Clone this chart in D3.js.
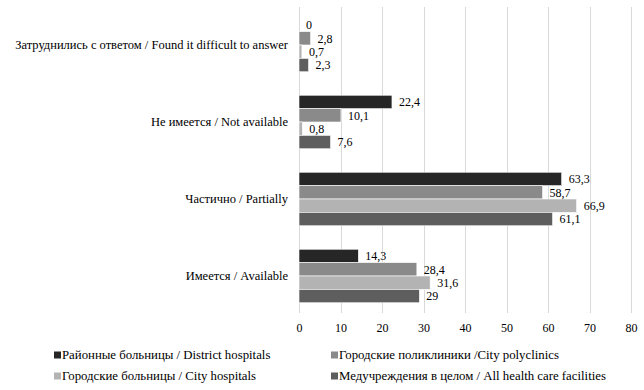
<!DOCTYPE html>
<html>
<head>
<meta charset="utf-8">
<script src="https://cdn.jsdelivr.net/npm/d3@7"></script>
<style>
  body { margin: 0; background: #fff; }
  svg text { font-family: "Liberation Serif", "Times New Roman", serif; fill: #000; }
</style>
</head>
<body>
<div id="chart"></div>
<script>
// categories, bottom to top as in the picture
const categories = [
  "Имеется / Available",
  "Частично / Partially",
  "Не имеется / Not available",
  "Затруднились с ответом / Found it difficult to answer"
];

const seriesNames = [
  "Районные больницы / District hospitals",
  "Городские поликлиники /City polyclinics",
  "Городские больницы / City hospitals",
  "Медучреждения в целом / All health care facilities"
];

// values per series, same order as categories
const district = [14.3, 63.3, 22.4, 0];
const polyclinics = [28.4, 58.7, 10.1, 2.8];
const cityHosp = [31.6, 66.9, 0.8, 0.7];
const allFacilities = [29, 61.1, 7.6, 2.3];

const xTicks = [0, 10, 20, 30, 40, 50, 60, 70, 80];

const colors = ["#262626", "#8a8a8a", "#b3b3b3", "#5e5e5e"];

const w = 644, h = 390;
const seriesVals = [district, polyclinics, cityHosp, allFacilities];

const svg = d3.select("#chart").append("svg")
  .attr("width", w).attr("height", h);

const x = d3.scaleLinear().domain([0, 80]).range([299, 631]);

// top category first on screen
const y = d3.scaleBand()
  .domain(categories.slice().reverse())
  .range([6.5, 314.5])
  .paddingInner(0.305)
  .paddingOuter(0.1525);

const ySub = d3.scaleBand()
  .domain(d3.range(seriesNames.length))
  .range([0, y.bandwidth()]);

// grid
svg.append("g")
  .selectAll("line")
  .data(xTicks)
  .join("line")
  .attr("x1", d => Math.round(x(d)) + 0.5)
  .attr("x2", d => Math.round(x(d)) + 0.5)
  .attr("y1", 7)
  .attr("y2", 313)
  .attr("stroke", "#d9d9d9")
  .attr("stroke-width", 1);

// bars
const rows = [];
categories.forEach((c, ci) => {
  seriesVals.forEach((vals, si) => {
    rows.push({ cat: c, s: si, v: vals[ci] });
  });
});

svg.append("g")
  .selectAll("rect")
  .data(rows)
  .join("rect")
  .attr("x", x(0))
  .attr("y", d => y(d.cat) + ySub(d.s))
  .attr("width", d => x(d.v) - x(0))
  .attr("height", ySub.bandwidth())
  .attr("fill", d => colors[d.s])
  .attr("stroke", "#fff")
  .attr("stroke-width", 0.6);

// value labels
svg.append("g")
  .selectAll("text")
  .data(rows)
  .join("text")
  .attr("x", d => x(d.v) + 7)
  .attr("y", d => y(d.cat) + ySub(d.s) + ySub.bandwidth() / 2)
  .attr("dy", "0.35em")
  .attr("font-size", 12)
  .text(d => String(d.v).replace(".", ","));

// category labels
svg.append("g")
  .selectAll("text")
  .data(categories)
  .join("text")
  .attr("x", 288)
  .attr("y", d => y(d) + y.bandwidth() / 2)
  .attr("dy", "0.35em")
  .attr("text-anchor", "end")
  .attr("font-size", 12.5)
  .text(d => d);

// x axis
const xAxis = d3.axisBottom(x).tickValues(xTicks).tickSize(0).tickPadding(0);
const gx = svg.append("g")
  .attr("transform", "translate(0,323)")
  .call(xAxis);
gx.select(".domain").remove();
gx.selectAll("text")
  .attr("font-size", 12)
  .attr("font-family", "Liberation Serif")
  .attr("dy", "0.71em");

// legend
const legPos = [[54, 355], [331, 355], [54, 376], [331, 376]];
const leg = svg.append("g")
  .selectAll("g")
  .data(seriesNames)
  .join("g")
  .attr("transform", (d, i) => `translate(${legPos[i][0]},${legPos[i][1]})`);
leg.append("rect")
  .attr("x", 0).attr("y", -3.5)
  .attr("width", 7).attr("height", 7)
  .attr("fill", (d, i) => colors[i]);
leg.append("text")
  .attr("x", 8)
  .attr("dy", "0.35em")
  .attr("font-size", 12.8)
  .text(d => d);
</script>
</body>
</html>
